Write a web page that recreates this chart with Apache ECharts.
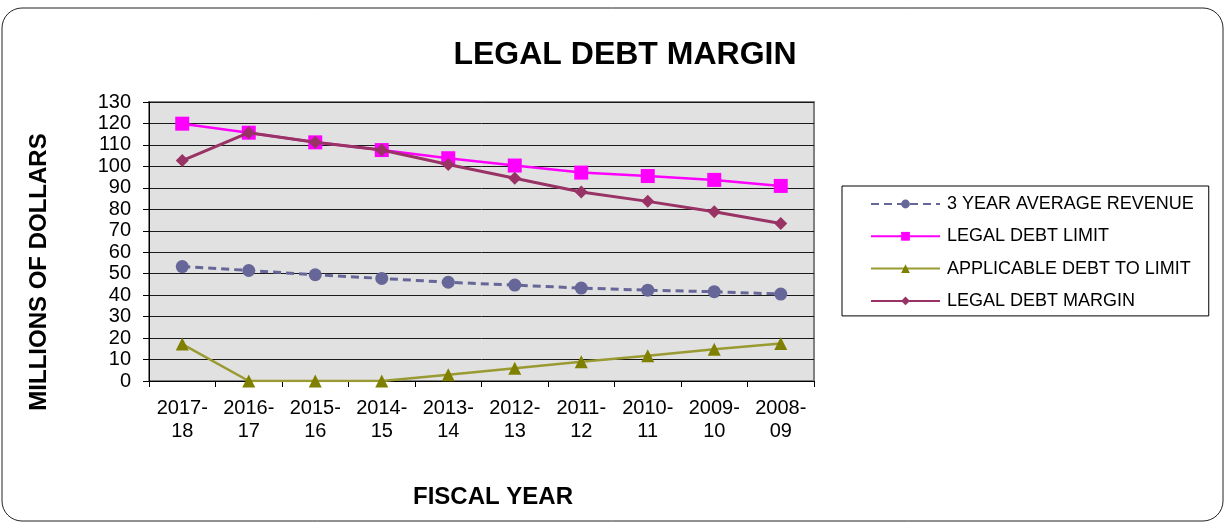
<!DOCTYPE html>
<html>
<head>
<meta charset="utf-8">
<script src="https://cdn.jsdelivr.net/npm/echarts@6/dist/echarts.min.js"></script>
<style>
  html, body { margin: 0; padding: 0; background: #fff; }
  #chart { width: 1226px; height: 523px; }
</style>
</head>
<body>
<div id="chart"></div>
<script>
// Fiscal years, newest first
const fiscalYears = ['2017-\n18', '2016-\n17', '2015-\n16', '2014-\n15', '2013-\n14',
                     '2012-\n13', '2011-\n12', '2010-\n11', '2009-\n10', '2008-\n09'];

// Values in millions of dollars
const avgRevenue     = [53.3, 51.5, 49.5, 47.8, 46.0, 44.7, 43.3, 42.3, 41.6, 40.5];
const debtLimit      = [119.9, 115.7, 111.2, 107.6, 103.8, 100.4, 97.1, 95.5, 93.7, 90.9];
const applicableDebt = [17.2, 0, 0, 0, 2.9, 5.9, 9.0, 11.8, 14.8, 17.5];
const debtMargin     = [102.7, 115.7, 111.2, 107.6, 100.9, 94.5, 88.1, 83.7, 78.9, 73.4];

const yTicks = { min: 0, max: 130, step: 10 };

const FONT = 'Liberation Sans, Arial, sans-serif';

const chart = echarts.init(document.getElementById('chart'), null, { renderer: 'canvas' });

chart.setOption({
  backgroundColor: '#ffffff',
  animation: false,
  title: {
    text: 'LEGAL DEBT MARGIN',
    left: 620,
    top: 34,
    textAlign: 'center',
    textStyle: { fontFamily: FONT, fontSize: 32, fontWeight: 'bold', color: '#000' }
  },
  graphic: [{
    type: 'rect',
    shape: { x: 2, y: 8, width: 1221, height: 513, r: 20 },
    style: { fill: 'none', stroke: '#222', lineWidth: 1 },
    silent: true,
    z: -1
  }],
  legend: {
    orient: 'vertical',
    left: 842,
    top: 186,
    padding: [9, 15, 6, 28],
    itemGap: 14.3,
    itemWidth: 69,
    itemHeight: 11,
    borderColor: '#000',
    borderWidth: 1,
    textStyle: { fontFamily: FONT, fontSize: 18, color: '#000', padding: [0, 0, 0, 2] },
    data: ['3 YEAR AVERAGE REVENUE', 'LEGAL DEBT LIMIT', 'APPLICABLE DEBT TO LIMIT', 'LEGAL DEBT MARGIN']
  },
  grid: {
    left: 149, right: 412, top: 102, bottom: 142,
    show: true,
    backgroundColor: '#e1e1e1',
    borderColor: '#808080',
    borderWidth: 2
  },
  xAxis: {
    type: 'category',
    data: fiscalYears,
    boundaryGap: true,
    name: 'FISCAL YEAR',
    nameLocation: 'middle',
    nameGap: 104,
    nameTextStyle: { fontFamily: FONT, fontSize: 24, fontWeight: 'bold', color: '#000', padding: [0, 0, 0, 23] },
    axisLine: { lineStyle: { color: '#000', width: 1 } },
    axisTick: { show: true, length: 6, lineStyle: { color: '#000' } },
    axisLabel: { fontFamily: FONT, fontSize: 20, color: '#000', lineHeight: 23, margin: 16 },
    splitLine: { show: false }
  },
  yAxis: {
    type: 'value',
    min: yTicks.min,
    max: yTicks.max,
    interval: yTicks.step,
    name: 'MILLIONS OF DOLLARS',
    nameLocation: 'middle',
    nameGap: 98,
    nameTextStyle: { fontFamily: FONT, fontSize: 24, fontWeight: 'bold', color: '#000', padding: [0, 61, 0, 0] },
    axisLine: { show: true, lineStyle: { color: '#000', width: 1 } },
    axisTick: { show: true, length: 6, lineStyle: { color: '#000' } },
    axisLabel: { fontFamily: FONT, fontSize: 20, color: '#000', margin: 18 },
    splitLine: { show: true, lineStyle: { color: '#1a1a1a', width: 1 } }
  },
  series: [
    {
      name: '3 YEAR AVERAGE REVENUE',
      type: 'line',
      data: avgRevenue,
      symbol: 'circle',
      symbolSize: 13,
      itemStyle: { color: '#666699' },
      lineStyle: { color: '#666699', width: 3, type: [8, 5] },
      z: 3
    },
    {
      name: 'LEGAL DEBT LIMIT',
      type: 'line',
      data: debtLimit,
      symbol: 'rect',
      symbolSize: 14,
      itemStyle: { color: '#ff00ff' },
      lineStyle: { color: '#ff00ff', width: 2.5 },
      z: 3
    },
    {
      name: 'APPLICABLE DEBT TO LIMIT',
      type: 'line',
      data: applicableDebt,
      symbol: 'triangle',
      symbolSize: 13,
      itemStyle: { color: '#808000' },
      lineStyle: { color: '#9a9a33', width: 2.5 },
      z: 3
    },
    {
      name: 'LEGAL DEBT MARGIN',
      type: 'line',
      data: debtMargin,
      symbol: 'diamond',
      symbolSize: 13,
      itemStyle: { color: '#993366' },
      lineStyle: { color: '#993366', width: 3 },
      z: 4
    }
  ]
});
</script>
</body>
</html>
